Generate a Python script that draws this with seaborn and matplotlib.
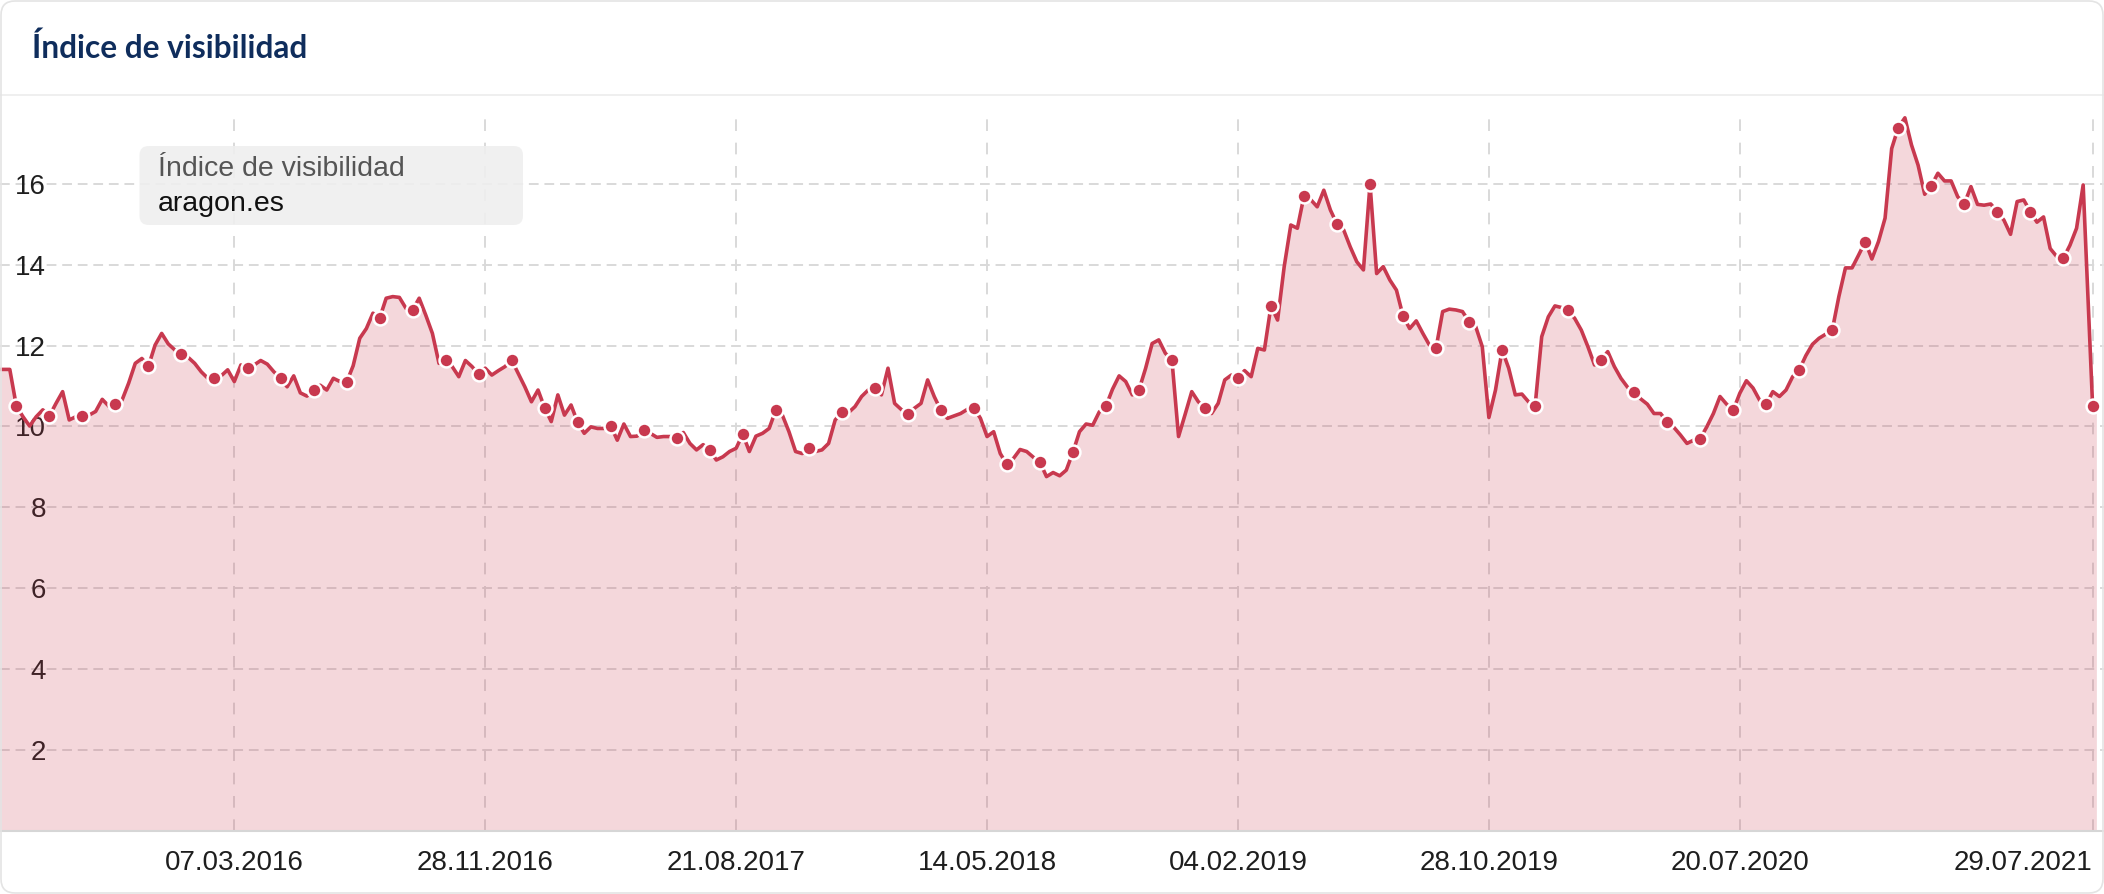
import numpy as np
import pandas as pd
import matplotlib
matplotlib.use("Agg")
import matplotlib.pyplot as plt
import matplotlib.dates as mdates
from matplotlib.patches import FancyBboxPatch
from matplotlib.lines import Line2D
from matplotlib.transforms import IdentityTransform
import seaborn as sns

# ---------------- data (weekly visibility index, aragon.es) ----------------
first_week = "2015-06-29"
last_dates = ["2021-07-29", "2021-08-02"]

vis_2015 = [11.41, 11.41, 11.41, 10.50, 10.24, 10.01, 10.24, 10.41, 10.26, 10.57, 10.86,
            10.16, 10.24, 10.26, 10.28, 10.37, 10.67, 10.50, 10.55, 10.65, 11.07,
            11.56, 11.68, 11.49, 12.01, 12.30, 12.04]
vis_2016 = [11.89, 11.79, 11.71, 11.56, 11.35, 11.19, 11.19, 11.25, 11.40, 11.11,
            11.52, 11.44, 11.52, 11.63, 11.54, 11.35, 11.20, 10.98, 11.25, 10.83,
            10.75, 10.89, 11.02, 10.90, 11.19, 11.11, 11.09, 11.50, 12.18, 12.42,
            12.80, 12.67, 13.17, 13.21, 13.19, 12.92, 12.88, 13.17, 12.75, 12.30,
            11.56, 11.64, 11.48, 11.23, 11.63, 11.48, 11.29, 11.44, 11.27, 11.38,
            11.48, 11.64]
vis_2017 = [11.31, 10.98, 10.61, 10.90, 10.46, 10.12, 10.78, 10.28, 10.53, 10.10,
            9.83, 9.99, 9.95, 9.95, 10.02, 9.66, 10.06, 9.75, 9.76, 9.91,
            9.83, 9.73, 9.75, 9.75, 9.71, 9.85, 9.58, 9.42, 9.55, 9.42,
            9.17, 9.25, 9.38, 9.46, 9.81, 9.38, 9.76, 9.83, 9.95, 10.40,
            10.28, 9.87, 9.38, 9.33, 9.46, 9.38, 9.42, 9.58, 10.16, 10.35,
            10.34, 10.49]
vis_2018 = [10.74, 10.90, 10.96, 10.78, 11.44, 10.57, 10.42, 10.31, 10.45, 10.57,
            11.15, 10.74, 10.40, 10.20, 10.26, 10.32, 10.42, 10.46, 10.20, 9.75,
            9.87, 9.33, 9.06, 9.21, 9.43, 9.38, 9.24, 9.12, 8.76, 8.86,
            8.78, 8.92, 9.36, 9.87, 10.06, 10.03, 10.36, 10.50, 10.92, 11.25,
            11.11, 10.78, 10.90, 11.43, 12.05, 12.14, 11.81, 11.64, 9.75, 10.30,
            10.86, 10.61]
vis_2019 = [10.45, 10.32, 10.57, 11.15, 11.27, 11.19, 11.38, 11.23, 11.93, 11.89,
            12.98, 12.63, 13.95, 14.98, 14.90, 15.70, 15.61, 15.43, 15.84, 15.35,
            15.00, 14.86, 14.44, 14.07, 13.87, 15.99, 13.78, 13.95, 13.62, 13.37,
            12.73, 12.42, 12.61, 12.30, 12.01, 11.94, 12.84, 12.90, 12.88, 12.84,
            12.59, 12.47, 11.97, 10.22, 10.90, 11.89, 11.44, 10.78, 10.80, 10.61,
            10.51, 12.22]
vis_2020 = [12.71, 12.98, 12.94, 12.87, 12.67, 12.38, 11.97, 11.52, 11.64, 11.85,
            11.48, 11.19, 10.97, 10.85, 10.68, 10.55, 10.32, 10.32, 10.11, 9.98,
            9.79, 9.58, 9.66, 9.70, 9.99, 10.32, 10.74, 10.55, 10.40, 10.82,
            11.13, 10.95, 10.65, 10.55, 10.86, 10.74, 10.90, 11.23, 11.40, 11.75,
            12.03, 12.18, 12.28, 12.38, 13.21, 13.92, 13.92, 14.24, 14.57, 14.14,
            14.57, 15.15]
vis_2021 = [16.87, 17.39, 17.63, 16.96, 16.46, 15.74, 15.95, 16.26, 16.07, 16.07,
            15.68, 15.50, 15.93, 15.49, 15.47, 15.50, 15.31, 15.10, 14.75, 15.56,
            15.60, 15.31, 15.05, 15.18, 14.40, 14.20, 14.16, 14.48, 14.90, 15.97]
vis_last = [10.51, 10.45]

tick_dates = ["2016-03-07", "2016-11-28", "2017-08-21", "2018-05-14",
              "2019-02-04", "2019-10-28", "2020-07-20", "2021-07-29"]
tick_labels = ["07.03.2016", "28.11.2016", "21.08.2017", "14.05.2018",
               "04.02.2019", "28.10.2019", "20.07.2020", "29.07.2021"]
y_ticks = [2, 4, 6, 8, 10, 12, 14, 16]

title_text = "Índice de visibilidad"
tooltip_series = "Índice de visibilidad"
tooltip_domain = "aragon.es"

# ---------------- build table ----------------
weekly = vis_2015 + vis_2016 + vis_2017 + vis_2018 + vis_2019 + vis_2020 + vis_2021
dates = list(pd.date_range(first_week, periods=len(weekly), freq="7D")) + list(pd.to_datetime(last_dates))
df = pd.DataFrame({"fecha": dates, "visibilidad": weekly + vis_last})
marker_idx = list(range(3, len(weekly), 5)) + [len(weekly)]
df_markers = df.iloc[marker_idx]

# ---------------- style ----------------
sns.set_theme(style="white")
plt.rcParams["font.family"] = ["Liberation Sans", "DejaVu Sans"]

LINE = "#c8394f"
GRID = "#d9d9d9"
W, H = 2104, 894

fig = plt.figure(figsize=(W / 100, H / 100), dpi=100)
fig.patch.set_facecolor("white")

ax_bottom_px = 830.9
ax_top_px = 115.0
ax = fig.add_axes([0, 1 - ax_bottom_px / H, 1, (ax_bottom_px - ax_top_px) / H])
ax.set_facecolor("white")
ax.set_axisbelow(True)

ax.fill_between(df["fecha"], df["visibilidad"], 0, color=LINE, alpha=0.2, lw=0, zorder=1)
sns.lineplot(data=df, x="fecha", y="visibilidad", ax=ax, color=LINE, lw=2.6, zorder=3)
sns.scatterplot(data=df_markers, x="fecha", y="visibilidad", ax=ax, color=LINE, s=100,
                edgecolor="white", linewidth=1.8, zorder=4)

# axes limits (pixel geometry of the reference)
ref = mdates.date2num(pd.Timestamp("2016-03-07"))
px_per_day = 0.9433
xmin = ref - 234.3 / px_per_day
xmax = xmin + W / px_per_day
ax.set_xlim(xmin, xmax)
ax.set_ylim(0, 17.70)

ax.yaxis.grid(True, color=GRID, ls=(0, (5, 3)), lw=1.4)
ax.xaxis.grid(True, color=GRID, ls=(0, (6, 6)), lw=1.4)

ax.set_xticks(mdates.date2num(pd.to_datetime(tick_dates)))
ax.set_xticklabels(tick_labels, fontsize=20, color="#1e1e1e")
ax.get_xticklabels()[-1].set_ha("right")
ax.set_yticks(y_ticks)
ax.set_yticklabels([str(v) for v in y_ticks], fontsize=20, color="#1e1e1e")
ax.tick_params(axis="x", length=0, pad=13.5)
ax.tick_params(axis="y", length=0, pad=-33, direction="in")
ax.set_xlabel("")
ax.set_ylabel("")
if ax.get_legend():
    ax.get_legend().remove()

for s in ["top", "left", "right"]:
    ax.spines[s].set_visible(False)
ax.spines["bottom"].set_color("#d6d6d6")
ax.spines["bottom"].set_linewidth(1.5)

# ---------------- header ----------------
fig.text(32 / W, 1 - 48 / H, title_text, fontsize=22.8, fontweight="bold", color="#0f2d5c",
         family=["Lato", "DejaVu Sans"], ha="left", va="center")
fig.add_artist(Line2D([0, 1], [1 - 95 / H, 1 - 95 / H], transform=fig.transFigure,
                      color="#ececec", lw=1.2))

# ---------------- tooltip ----------------
tip = FancyBboxPatch((139.5, H - 225), 383.5, 79, boxstyle="round,pad=0,rounding_size=9",
                     transform=IdentityTransform(), fc="#efefef", ec="none", alpha=0.88, zorder=10)
fig.add_artist(tip)
fig.text(158 / W, 1 - 169 / H, tooltip_series, fontsize=20.5, color="#555555",
         ha="left", va="center", zorder=11)
fig.text(158 / W, 1 - 204 / H, tooltip_domain, fontsize=20.5, color="#111111",
         ha="left", va="center", zorder=11)

# ---------------- card border ----------------
card = FancyBboxPatch((1, 1), W - 2, H - 2, boxstyle="round,pad=0,rounding_size=14",
                      transform=IdentityTransform(), fc="none", ec="#e4e4e4", lw=1.2, zorder=12)
fig.add_artist(card)

fig.savefig("out.png", dpi=100)
